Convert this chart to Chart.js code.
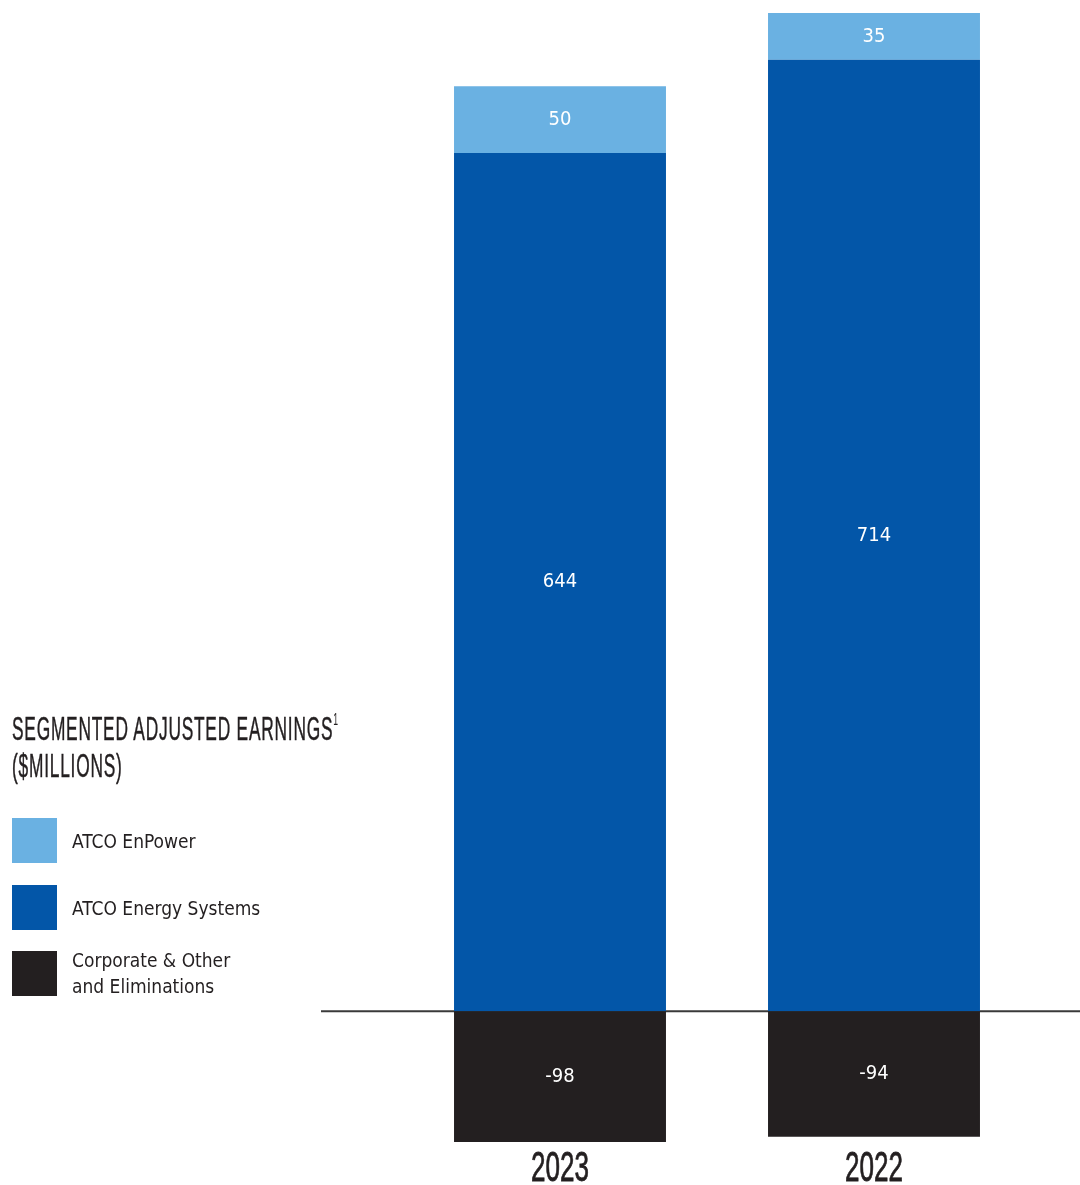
<!DOCTYPE html>
<html>
<head>
<meta charset="utf-8">
<script src="https://cdn.jsdelivr.net/npm/chart.js@4"></script>
<style>
  body { margin: 0; background: #fff; }
  #wrap { position: relative; width: 1080px; height: 1185px; }
  #legend { position: absolute; left: 12px; top: 708px; color: #231f20; font-family: "DejaVu Sans Condensed", sans-serif; }
  #legend h2 { position: absolute; top: -7px; left: 0; margin: 0; font-family: "Liberation Sans", sans-serif; font-weight: normal; font-size: 34px; line-height: 37px; letter-spacing: 1.5px; white-space: nowrap;
    transform: scaleX(0.51); transform-origin: top left; -webkit-text-stroke: 0.5px #231f20; }
  #legend h2 sup { font-size: 17px; vertical-align: 15px; -webkit-text-stroke: 0; }
  .item { position: absolute; left: 0; display: flex; align-items: center; font-size: 19px; line-height: 26px; white-space: nowrap; }
  .sw { width: 45px; height: 45px; margin-right: 15px; flex: none; }
</style>
</head>
<body>
<div id="wrap">
  <canvas id="myChart"></canvas>
  <div id="legend">
    <h2>SEGMENTED ADJUSTED EARNINGS<sup>1</sup><br>($MILLIONS)</h2>
    <div class="item" style="top:110px"><div class="sw" style="background:#6ab1e2"></div>ATCO EnPower</div>
    <div class="item" style="top:177px"><div class="sw" style="background:#0356a8"></div>ATCO Energy Systems</div>
    <div class="item" style="top:239px"><div class="sw" style="background:#231f20"></div><span>Corporate &amp; Other<br>and Eliminations</span></div>
  </div>
</div>
<script>
var years = ['2023', '2022'];
var enpower = [50, 35];
var energySystems = [644, 714];
var corporate = [-98, -94];

// zero line across the whole width, behind the bars
var zeroLine = {
  id: 'zeroLine',
  beforeDatasetsDraw: function(chart) {
    var ctx = chart.ctx;
    var y = chart.scales.y.getPixelForValue(0);
    ctx.save();
    ctx.strokeStyle = '#3a3a3a';
    ctx.lineWidth = 2;
    ctx.beginPath();
    ctx.moveTo(321, y);
    ctx.lineTo(chart.width, y);
    ctx.stroke();
    ctx.restore();
  }
};

// value labels in the middle of each segment, year labels under the bars
var valueLabels = {
  id: 'valueLabels',
  afterDatasetsDraw: function(chart) {
    var ctx = chart.ctx;
    ctx.save();
    ctx.fillStyle = '#ffffff';
    ctx.font = '20px "DejaVu Sans Condensed", sans-serif';
    ctx.textAlign = 'center';
    ctx.textBaseline = 'middle';
    chart.data.datasets.forEach(function(ds, i) {
      chart.getDatasetMeta(i).data.forEach(function(bar, j) {
        var c = bar.getCenterPoint();
        ctx.fillText(String(ds.data[j]), c.x, c.y);
      });
    });
    // condensed year labels
    ctx.fillStyle = '#231f20';
    ctx.strokeStyle = '#231f20';
    ctx.lineWidth = 0.8;
    ctx.font = '42px "Liberation Sans", sans-serif';
    ctx.textBaseline = 'alphabetic';
    var yy = chart.chartArea.bottom + 39;
    chart.data.labels.forEach(function(lab, i) {
      var x = chart.scales.x.getPixelForValue(i);
      ctx.save();
      ctx.translate(x, yy);
      ctx.scale(0.62, 1);
      ctx.fillText(lab, 0, 0);
      ctx.strokeText(lab, 0, 0);
      ctx.restore();
    });
    ctx.restore();
  }
};

var ctx = document.getElementById('myChart');
var myChart = new Chart(ctx, {
  type: 'bar',
  data: {
    labels: years,
    datasets: [
      { label: 'Corporate & Other and Eliminations', data: corporate, backgroundColor: '#231f20' },
      { label: 'ATCO Energy Systems', data: energySystems, backgroundColor: '#0356a8' },
      { label: 'ATCO EnPower', data: enpower, backgroundColor: '#6ab1e2' }
    ]
  },
  options: {
    responsive: true,
    maintainAspectRatio: false,
    animation: false,
    layout: { padding: { left: 403, right: 49, top: 13, bottom: 43 } },
    datasets: { bar: { categoryPercentage: 1, barPercentage: 0.675 } },
    plugins: { legend: { display: false }, tooltip: { enabled: false } },
    scales: {
      x: { stacked: true, display: false },
      y: { stacked: true, display: false, min: -98, max: 749 }
    }
  },
  plugins: [zeroLine, valueLabels]
});
</script>
</body>
</html>
